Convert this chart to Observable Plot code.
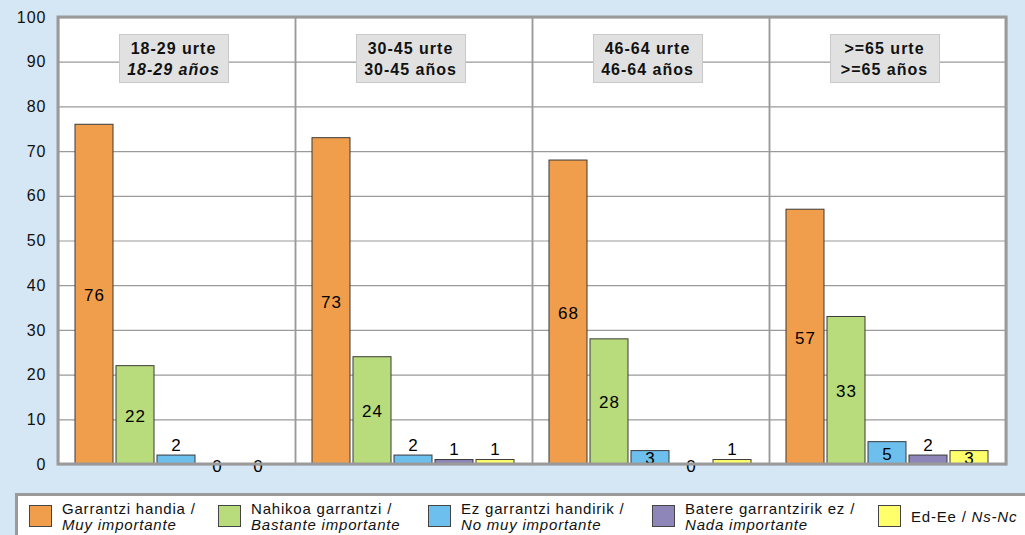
<!DOCTYPE html>
<html><head><meta charset="utf-8">
<script src="https://cdn.jsdelivr.net/npm/d3@7"></script>
<script src="https://cdn.jsdelivr.net/npm/@observablehq/plot@0.6"></script>
<style>
body{margin:0;background:#d5e6f4;}
#wrap{position:relative;width:1025px;height:535px;overflow:hidden;background:#d5e6f4;font-family:"Liberation Sans",Arial,sans-serif;}
#chart{position:absolute;left:0;top:0;}
.glabel{position:absolute;background:#e1e1e1;border:1px solid #c9c9c9;box-sizing:border-box;text-align:center;font-weight:bold;font-size:16px;line-height:21px;letter-spacing:1px;padding-top:3px;color:#111;}
#legend{position:absolute;left:15px;top:493px;width:1020px;height:60px;background:#fff;border-top:3px solid #9a9a9a;border-left:3px solid #9a9a9a;box-sizing:border-box;}
.item{position:absolute;top:0;}
.sw{position:absolute;top:9px;width:23px;height:22px;border:1px solid #444;box-sizing:border-box;}
.lt{position:absolute;top:5px;font-size:15px;line-height:16px;letter-spacing:0.8px;color:#111;white-space:nowrap;}
</style></head><body><div id="wrap"><div id="chart"></div><div id="legend"></div></div>
<script>
const groups = ["18-29", "30-45", "46-64", ">=65"];
const groupLabelEu = ["18-29 urte", "30-45 urte", "46-64 urte", ">=65 urte"];
const groupLabelEs = ["18-29 años", "30-45 años", "46-64 años", ">=65 años"];
const categories = ["Garrantzi handia", "Nahikoa garrantzi", "Ez garrantzi handirik", "Batere garrantzirik ez", "Ed-Ee"];
const categoriesEs = ["Muy importante", "Bastante importante", "No muy importante", "Nada importante", "Ns-Nc"];
const muyImportante = [76, 73, 68, 57];
const bastanteImportante = [22, 24, 28, 33];
const noMuyImportante = [2, 2, 3, 5];
const nadaImportante = [0, 1, 0, 2];
const nsnc = [0, 1, 1, 3];
const colors = ["#f09e4b", "#b8dc7b", "#6dbfee", "#8e85b8", "#ffff6b"];
const yTicks = [0, 10, 20, 30, 40, 50, 60, 70, 80, 90, 100];

const series = [muyImportante, bastanteImportante, noMuyImportante, nadaImportante, nsnc];
const rows = [];
groups.forEach((g, i) => categories.forEach((c, j) => rows.push({group: g, cat: c, value: series[j][i]})));

const txt = {fx: "group", x: "cat", text: "value", fill: "#000", fontSize: 17, textAnchor: "middle"};
const plot = Plot.plot({
  width: 1025, height: 480,
  marginTop: 17, marginBottom: 16, marginLeft: 58, marginRight: 19,
  style: {background: "transparent", fontFamily: '"Liberation Sans", Arial, sans-serif', fontSize: "16px", color: "#111", letterSpacing: "1px"},
  fx: {domain: groups, padding: 0, axis: null},
  x: {domain: categories, paddingInner: 0.07, paddingOuter: 0.42, axis: null},
  y: {domain: [0, 100], ticks: yTicks, tickSize: 0, tickPadding: 12, label: null},
  color: {domain: categories, range: colors},
  marks: [
    Plot.frame({fill: "white"}),
    Plot.ruleY(yTicks, {stroke: "#9a9a9a", strokeWidth: 1.2}),
    Plot.frame({stroke: "#9a9a9a", strokeWidth: 1.5}),
    Plot.barY(rows, {fx: "group", x: "cat", y: "value", fill: "cat", stroke: "#3a3a3a", strokeWidth: 1}),
    Plot.text(rows.filter(d => d.value >= 3), {...txt, y: d => d.value / 2, dy: 1}),
    Plot.text(rows.filter(d => d.value > 0 && d.value < 3), {...txt, y: "value", dy: -10}),
    Plot.text(rows.filter(d => d.value === 0), {...txt, y: "value", dy: 2})
  ]
});
document.getElementById("chart").appendChild(plot);

// outer thick border from scale ranges
const fxS = plot.scale("fx"), yS = plot.scale("y");
const x0 = fxS.apply(groups[0]), x1 = fxS.apply(groups[groups.length - 1]) + fxS.bandwidth;
const [yb, yt] = yS.range;
d3.select(plot).append("rect")
  .attr("x", x0).attr("y", yt).attr("width", x1 - x0).attr("height", yb - yt)
  .attr("fill", "none").attr("stroke", "#9a9a9a").attr("stroke-width", 3);

// group label boxes
const wrap = document.getElementById("wrap");
groups.forEach((g, i) => {
  const cx = fxS.apply(g) + fxS.bandwidth / 2 - 3;
  const d = document.createElement("div");
  d.className = "glabel";
  d.style.left = (cx - 55) + "px"; d.style.top = "34px";
  d.style.width = "110px"; d.style.height = "49px";
  d.innerHTML = groupLabelEu[i] + "<br>" + (i === 0 ? "<i>" + groupLabelEs[i] + "</i>" : groupLabelEs[i]);
  wrap.appendChild(d);
});

// legend
const legend = document.getElementById("legend");
const itemLeft = [11, 200, 410, 634, 860];
categories.forEach((c, j) => {
  const it = document.createElement("div");
  it.className = "item"; it.style.left = itemLeft[j] + "px";
  const sw = document.createElement("div");
  sw.className = "sw"; sw.style.left = "0px"; sw.style.background = colors[j];
  const lt = document.createElement("div");
  lt.className = "lt"; lt.style.left = "33px";
  if (j === 4) { lt.style.top = "13px"; lt.innerHTML = c + " / <i>" + categoriesEs[j] + "</i>"; }
  else lt.innerHTML = c + " /<br><i>" + categoriesEs[j] + "</i>";
  it.appendChild(sw); it.appendChild(lt);
  legend.appendChild(it);
});
</script></body></html>
